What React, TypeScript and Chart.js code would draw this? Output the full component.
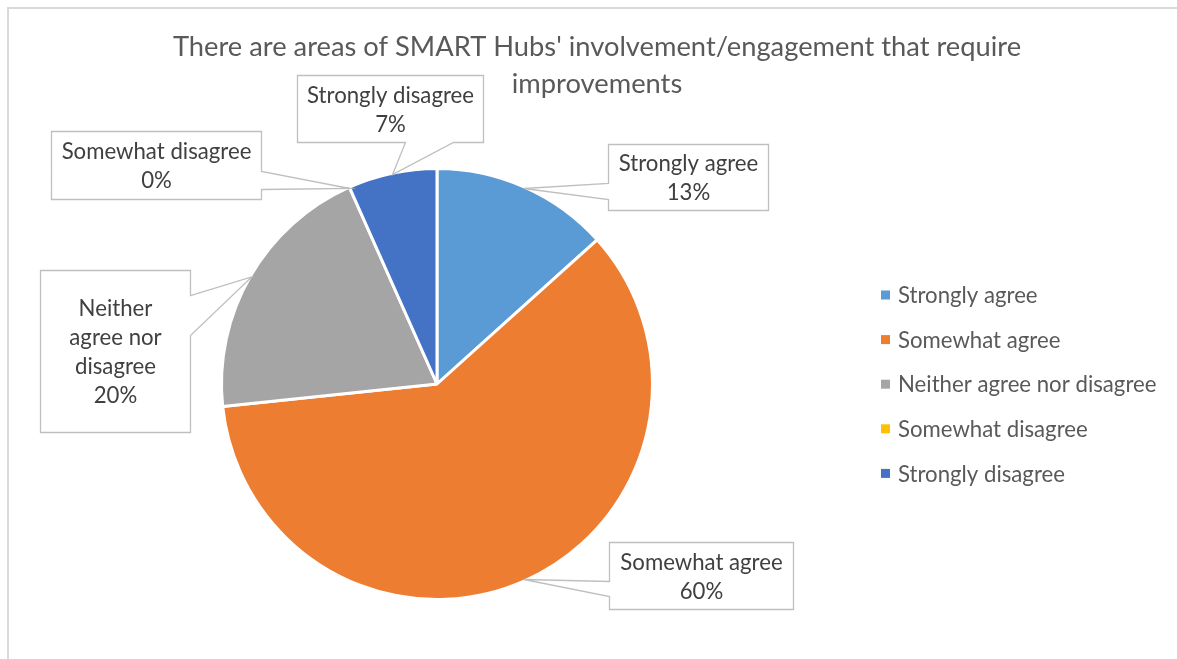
import React, { useEffect, useRef } from "react";
import { Chart, registerables } from "chart.js";

Chart.register(...registerables);

const TITLE_LINES = [
  "There are areas of SMART Hubs' involvement/engagement that require",
  "improvements",
];
const CATEGORIES = [
  "Strongly agree",
  "Somewhat agree",
  "Neither agree nor disagree",
  "Somewhat disagree",
  "Strongly disagree",
];
const RESPONSES = [2, 9, 3, 0, 1];
const COLORS = ["#5B9BD5", "#ED7D31", "#A5A5A5", "#FFC000", "#4472C4"];
const LABEL_LINES = [
  ["Strongly agree"],
  ["Somewhat agree"],
  ["Neither", "agree nor", "disagree"],
  ["Somewhat disagree"],
  ["Strongly disagree"],
];

// Callout box layout relative to the slice tip (dx, dy = box centre offset)
const CALLOUTS = [
  { dx: 164, dy: -12, w: 160, h: 66, side: "left", b0: 39, b1: 55 },
  { dx: 177, dy: -3.5, w: 184, h: 67, side: "left", b0: 39, b1: 54 },
  { dx: -137, dy: 74, w: 150, h: 162, side: "right", b0: 25, b1: 65 },
  { dx: -194, dy: -24, w: 210, h: 68, side: "right", b0: 40, b1: 58 },
  { dx: -3, dy: -66.5, w: 186, h: 67, side: "bottom", b0: 108, b1: 156 },
];

const FONT = "Lato, 'Open Sans', sans-serif";

const decorPlugin = {
  id: "decor",
  beforeDraw(chart: any) {
    const ctx = chart.ctx;
    ctx.save();
    ctx.fillStyle = "#ffffff";
    ctx.fillRect(0, 0, chart.width, chart.height);
    ctx.fillStyle = "#d9d9d9";
    ctx.fillRect(7, 7, chart.width - 7, 2);
    ctx.fillRect(7, 7, 2, chart.height - 7);
    // title
    ctx.fillStyle = "#595959";
    ctx.font = `27.3px ${FONT}`;
    ctx.textAlign = "center";
    ctx.textBaseline = "alphabetic";
    ctx.fillText(TITLE_LINES[0], 597, 56);
    ctx.fillText(TITLE_LINES[1], 597, 93);
    // legend
    ctx.font = `22.2px ${FONT}`;
    ctx.textAlign = "left";
    ctx.textBaseline = "middle";
    CATEGORIES.forEach((c, i) => {
      const y = 295 + i * 44.6;
      ctx.fillStyle = COLORS[i];
      ctx.fillRect(881, y - 4.5, 9, 9);
      ctx.fillStyle = "#595959";
      ctx.fillText(c, 898, y + 1);
    });
    ctx.restore();
  },
  afterDatasetsDraw(chart: any) {
    const ctx = chart.ctx;
    const meta = chart.getDatasetMeta(0);
    const data = chart.data.datasets[0].data as number[];
    const total = data.reduce((a, b) => a + b, 0);
    ctx.save();
    meta.data.forEach((arc: any, i: number) => {
      const { x, y, startAngle, endAngle, outerRadius } = arc.getProps(
        ["x", "y", "startAngle", "endAngle", "outerRadius"],
        true
      );
      const mid = (startAngle + endAngle) / 2;
      const r = outerRadius - 1.5;
      const tx = x + Math.cos(mid) * r;
      const ty = y + Math.sin(mid) * r;
      const co = CALLOUTS[i];
      const cx = tx + co.dx;
      const cy = ty + co.dy;
      const L = Math.round(cx - co.w / 2) + 0.5;
      const T = Math.round(cy - co.h / 2) + 0.5;
      const R = L + co.w;
      const B = T + co.h;
      ctx.beginPath();
      if (co.side === "left") {
        ctx.moveTo(L, T);
        ctx.lineTo(R, T);
        ctx.lineTo(R, B);
        ctx.lineTo(L, B);
        ctx.lineTo(L, T + co.b1);
        ctx.lineTo(tx, ty);
        ctx.lineTo(L, T + co.b0);
      } else if (co.side === "right") {
        ctx.moveTo(L, T);
        ctx.lineTo(R, T);
        ctx.lineTo(R, T + co.b0);
        ctx.lineTo(tx, ty);
        ctx.lineTo(R, T + co.b1);
        ctx.lineTo(R, B);
        ctx.lineTo(L, B);
      } else {
        ctx.moveTo(L, T);
        ctx.lineTo(R, T);
        ctx.lineTo(R, B);
        ctx.lineTo(L + co.b1, B);
        ctx.lineTo(tx, ty);
        ctx.lineTo(L + co.b0, B);
        ctx.lineTo(L, B);
      }
      ctx.closePath();
      ctx.fillStyle = "#ffffff";
      ctx.fill();
      ctx.strokeStyle = "#bfbfbf";
      ctx.lineWidth = 1.3;
      ctx.stroke();

      const pct = Math.round((data[i] / total) * 100) + "%";
      const lines = [...LABEL_LINES[i], pct];
      const lh = 29;
      ctx.fillStyle = "#404040";
      ctx.font = `22.2px ${FONT}`;
      ctx.textAlign = "center";
      ctx.textBaseline = "middle";
      const startY = (T + B) / 2 - ((lines.length - 1) * lh) / 2;
      lines.forEach((ln, k) => {
        ctx.fillText(ln, (L + R) / 2, startY + k * lh + 1);
      });
    });
    ctx.restore();
  },
};

export default function App() {
  const ref = useRef<HTMLCanvasElement | null>(null);
  useEffect(() => {
    if (!ref.current) return;
    const chart = new Chart(ref.current, {
      type: "pie",
      data: {
        labels: CATEGORIES,
        datasets: [
          {
            data: RESPONSES,
            backgroundColor: COLORS,
            borderColor: "#ffffff",
            borderWidth: 3,
          },
        ],
      },
      options: {
        animation: false,
        responsive: true,
        maintainAspectRatio: false,
        layout: { padding: { top: 167, bottom: 58, left: 220, right: 523 } },
        plugins: {
          legend: { display: false },
          title: { display: false },
          tooltip: { enabled: false },
        },
      },
      plugins: [decorPlugin],
    });
    return () => chart.destroy();
  }, []);
  return (
    <div
      style={{
        position: "fixed",
        left: 0,
        top: 0,
        width: 1177,
        height: 659,
        background: "#fff",
      }}
    >
      <canvas ref={ref} />
    </div>
  );
}
